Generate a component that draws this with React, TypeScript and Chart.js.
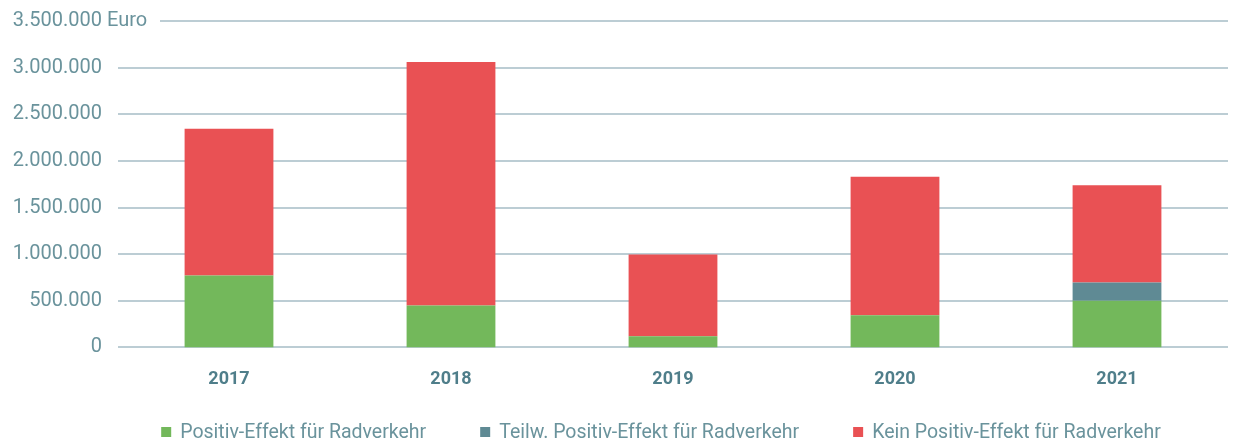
import React, { useEffect, useRef } from "react";
import { Chart, registerables } from "chart.js";

Chart.register(...registerables);

const years = ["2017", "2018", "2019", "2020", "2021"];
const positiv = [770000, 450000, 120000, 345000, 500000];
const teilweise = [0, 0, 0, 0, 195000];
const kein = [1575000, 2610000, 875000, 1485000, 1045000];
const seriesNames = [
  "Positiv-Effekt für Radverkehr",
  "Teilw. Positiv-Effekt für Radverkehr",
  "Kein Positiv-Effekt für Radverkehr",
];
const yMax = 3500000;
const yStep = 500000;

const GREEN = "#73b85b";
const TEAL = "#5f8a94";
const RED = "#e95154";
const GRID = "#bccdd4";
const TICK = "#6a939c";
const XTICK = "#4f7e8a";
const FONT = "Roboto, 'Open Sans', sans-serif";

function fmt(v: number): string {
  return String(Math.round(v)).replace(/\B(?=(\d{3})+(?!\d))/g, ".");
}

const gridPlugin = {
  id: "customGrid",
  beforeDatasetsDraw(chart: any) {
    const { ctx, chartArea, scales } = chart;
    const y = scales.y;
    ctx.save();
    ctx.strokeStyle = GRID;
    ctx.lineWidth = 2;
    for (let v = 0; v <= yMax; v += yStep) {
      const py = Math.round(y.getPixelForValue(v));
      const startX = v === yMax ? chartArea.left + 42 : chartArea.left;
      ctx.beginPath();
      ctx.moveTo(startX, py);
      ctx.lineTo(chartArea.right, py);
      ctx.stroke();
    }
    ctx.fillStyle = TICK;
    ctx.font = `20px ${FONT}`;
    ctx.textAlign = "left";
    ctx.textBaseline = "middle";
    ctx.fillText("Euro", chartArea.left - 11, y.getPixelForValue(yMax));
    ctx.restore();
  },
};

const legendPlugin = {
  id: "customLegend",
  afterDraw(chart: any) {
    const { ctx, chartArea } = chart;
    const datasets = chart.data.datasets;
    ctx.save();
    ctx.font = `19.5px ${FONT}`;
    ctx.textBaseline = "middle";
    ctx.textAlign = "left";
    const boxSize = 10;
    const boxToText = 19;
    const gap = 54;
    const widths = datasets.map((d: any) => boxToText + ctx.measureText(d.label).width);
    const total = widths.reduce((a: number, b: number) => a + b, 0) + gap * (datasets.length - 1);
    const center = (chartArea.left + chartArea.right) / 2 - 12;
    let x = center - total / 2;
    const yc = 432;
    datasets.forEach((d: any, i: number) => {
      ctx.fillStyle = d.backgroundColor;
      ctx.fillRect(x, yc - boxSize / 2, boxSize, boxSize);
      ctx.fillStyle = TICK;
      ctx.fillText(d.label, x + boxToText, yc + 1);
      x += widths[i] + gap;
    });
    ctx.restore();
  },
};

export default function App() {
  const ref = useRef<HTMLCanvasElement | null>(null);

  useEffect(() => {
    document.body.style.margin = "0";
    const canvas = ref.current;
    if (!canvas) return;
    const chart = new Chart(canvas, {
      type: "bar",
      data: {
        labels: years,
        datasets: [
          { label: seriesNames[0], data: positiv, backgroundColor: GREEN, borderWidth: 0 },
          { label: seriesNames[1], data: teilweise, backgroundColor: TEAL, borderWidth: 0 },
          { label: seriesNames[2], data: kein, backgroundColor: RED, borderWidth: 0 },
        ],
      },
      options: {
        animation: false,
        responsive: false,
        maintainAspectRatio: false,
        datasets: { bar: { barPercentage: 0.4, categoryPercentage: 1 } },
        layout: { padding: { top: 21, right: 8, left: 0, bottom: 33 } },
        plugins: {
          tooltip: { enabled: false },
          legend: { display: false },
        },
        scales: {
          x: {
            stacked: true,
            grid: { display: false, drawTicks: false },
            border: { display: false },
            ticks: {
              color: XTICK,
              padding: 21,
              font: { family: FONT, size: 18, weight: "bold" },
            },
          },
          y: {
            stacked: true,
            min: 0,
            max: yMax,
            grid: { display: false, drawTicks: false },
            border: { display: false },
            afterFit: (scale: any) => {
              scale.width = 118;
              scale.paddingTop = 0;
              scale.paddingBottom = 0;
            },
            ticks: {
              stepSize: yStep,
              color: TICK,
              padding: 16,
              font: { family: FONT, size: 20 },
              callback: (v: any) => fmt(Number(v)),
            },
          },
        },
      },
      plugins: [gridPlugin, legendPlugin],
    });
    return () => chart.destroy();
  }, []);

  return (
    <div style={{ width: 1236, height: 444 }}>
      <canvas ref={ref} width={1236} height={444} style={{ display: "block" }} />
    </div>
  );
}
